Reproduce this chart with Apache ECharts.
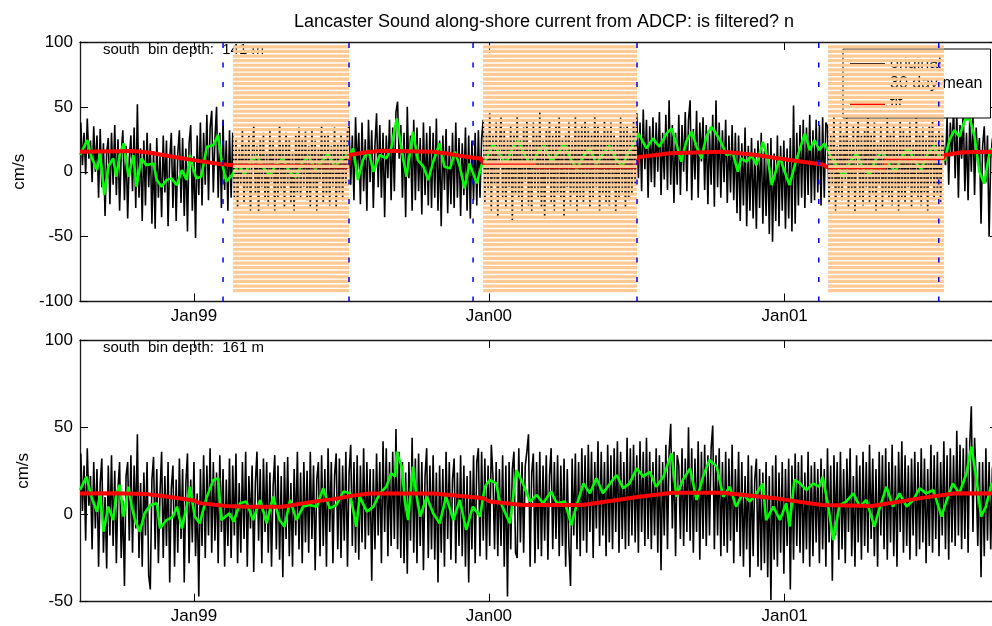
<!DOCTYPE html>
<html>
<head>
<meta charset="utf-8">
<script src="https://cdn.jsdelivr.net/npm/echarts@6.0.0/dist/echarts.min.js"></script>
<style>html,body{margin:0;padding:0;background:#fff;}#chart{width:992px;height:626px;}</style>
</head>
<body>
<div id="chart"></div>
<script>
// ---- data (days since 1 Jan 1999) ----
const tickDays = [0, 365, 731];
const tickLabels = ['Jan99', 'Jan00', 'Jan01'];
const titleText = 'Lancaster Sound along-shore current from ADCP: is filtered? n';
const topLabel = 'south  bin depth:  141 m';
const bottomLabel = 'south  bin depth:  161 m';
const seriesNames = ['original', '30 day mean', 'fit'];

// original (unfiltered) current, one value every 2 days from day -140
const blackStart = -140, blackStep = 2;
const topBlack = [
 38,5,30,-2,41,10,24,-8,35,0, 28,-20,33,-12,22,-34,15,26,-25,30, -10,36,-18,25,-30,14,32,-22,20,-36,
 10,28,-15,34,-28,52,-20,18,-38,24, -26,30,-12,22,-40,16,-44,26,-20,12, -35,28,-16,24,-42,10,30,-28,20,-38,
 14,32,-24,26,-34,18,-46,22,36,-30, 12,-51,28,-18,38,-26,30,-10,44,-22, 34,47,-16,26,50,-20,30,-28,40,-14,
 24,-30,32,-20,
 30,-20,25,-28,18,-10,33,-25,22,-15, 28,-30,12,35,-18,20,-32,26,-12,30, -22,15,-26,32,-8,24,-30,18,-20,36,
 -15,22,-28,30,-10,25,-24,14,-30,28, -16,34,-20,26,-12,31,-22,20,-27,33, -14,24,-30,18,-8,35,-24,28,-18,30,
 -26,20,-12,34,-28,22,-16,30,-22,26, -10,32,
 35,-10,28,-22,42,0,30,-25,38,-15, 25,-30,40,-8,32,-28,20,45,-12,36, -20,30,-35,28,-5,40,-22,34,-15,46,
 54,10,36,-20,30,-35,50,-5,28,-30, 40,-22,34,-15,26,-33,38,-18,30,-26, 35,-28,30,-20,41,-30,24,-42,28,-14,
 33,-32,20,-25,30,-28,38,-20,26,-34, 22,-18,34,-30,28,-36,24,-22,30,-26, 32,-20,26,
 40,-25,30,-15,45,-30,28,-10,38,-35, 20,42,-20,32,-28,25,-12,36,-38,30, -18,44,-22,26,-30,34,-8,40,-26,22,
 -32,38,-14,30,-20,46,-28,24,-36,33, -10,40,-24,28,-30,35,-16,42,-22,26, -34,30,-12,38,-26,24,-18,43,-30,32,
 -20,36,-25,40,-15,34,-28,30,-22,44, -12,36,-30,28,-18,40,-24,32,-26,38, -14,30,-32,26,-20,42,-16,34,-28,36,
 -22,30,-18,40,-10,
 45,-5,38,-15,48,2,40,-20,35,-8, 42,-12,38,0,46,-18,30,-6,44,-14, 55,-10,36,-24,30,-10,44,-18,36,0,
 46,-15,40,55,-22,33,-6,47,-20,38, 8,42,-14,36,-25,30,-10,44,-27,55, -12,38,-20,32,-8,40,-24,28,-16,36,
 -22,30,-32,28,-38,22,-26,34,-42,20, -30,26,-36,18,-44,24,-28,30,-40,16, -34,22,-48,26,-54,14,-38,28,-42,20,
 -30,24,-44,18,-36,26,-46,51,-40,30, -26,36,-20,40,-28,34,-18,44,-24,32, -22,40,-16,36,-26,42,-20,38,
 35,-25,28,-10,42,-30,20,-18,38,-22, 30,-8,45,-28,24,-15,36,-32,18,40, -20,28,-26,33,-12,48,-24,30,-18,38,
 -30,22,-10,35,-28,26,-16,42,-22,30, -26,36,-14,24,-30,40,-20,32,-24,28, -12,38,-28,22,-18,44,-20,30,-26,34,
 -16,26,-30,36,-10,40,-22,28,-18,32, -24,30,
 30,5,42,-10,38,12,50,-5,45,-20, 36,10,48,-15,30,-22,40,0,44,-18, 34,8,26,-40,20,35,-8,28,-50,10, 25,30
];
const bottomBlack = [
 35,2,28,-15,38,5,22,-20,30,-8, 26,-30,18,32,-22,10,-31,28,-12,34, -18,25,-28,15,30,-25,8,-41,22,30,
 -15,34,-22,28,-8,46,-25,18,-30,24, -12,30,-35,-43,20,33,-20,26,-28,12, 36,-25,22,-18,30,-39,15,28,-30,20,
 -22,32,-14,26,-39,18,35,-28,20,-16, 30,-24,12,-47,26,-18,34,-25,28,-12, 38,-22,30,-15,24,-28,34,-10,26,-30,
 20,-18,32,-25,28,-12,35,-28,18,-22, 30,-14,36,-30,22,-8,28,-33,18,36, -15,26,-28,32,-10,30,-22,24,-30,16,
 34,-20,28,-26,22,-36,30,-14,33,-24, 18,-30,26,-12,36,-20,24,-28,30,-16, 25,-22,36,-14,28,-32,20,30,-24,34,
 -18,26,-30,38,-10,30,-28,22,35,-20, 32,-25,28,-15,36,-30,24,40,-18,30, -22,34,-26,28,-16,38,-20,30,-12,26,
 -38,26,-20,35,-12,30,-28,42,-10,38, -24,30,-18,36,-14,49,-20,36,-25,30, -28,24,-34,30,-15,44,-22,32,-28,35,
 -18,30,-32,22,38,-25,28,-20,34,-26, 24,-39,28,-22,26,-30,36,-14,30,-26, 20,32,-28,24,-18,34,-24,28,-30,22,
 -39,25,-20,34,-28,30,38,-24,36,-15, 32,-26,28,-18,40,22,-20,30,-24,26, -18,34,-30,28,-47,30,-20,26,36,-22,
 -25,38,-16,30,-22,28,36,46,-30,24, 35,-28,30,-20,36,-24,28,-15,34,-26, 22,38,-20,30,-14,34,-24,28,-18,32,
 -30,26,-18,-41,32,-12,35,-20,30,-24, 38,-15,34,-22,40,-10,36,-25,30,-8, 42,-18,36,-12,30,-24,40,-16,34,-20,
 38,-10,42,-22,36,-14,30,-20,44,-18, 38,-12,40,-16,34,-22,42,-10,36,-18, 44,-14,36,-20,30,-12,38,-22,34,-32,
 30,-12,40,-20,36,52,-8,36,-24,34, 28,-14,38,-18,32,-10,50,-15,38,-22, 32,-10,42,-26,36,-14,40,-18,34,-12,
 38,51,-20,34,-12,38,-24,30,-18,36, -22,32,-15,40,-28,26,-10,36,-24,30, -30,22,-20,34,-36,28,-24,20,32,-30,
 26,-32,24,-28,30,-36,22,-49,28,-26, 34,-30,24,-22,30,-34,26,-18,32,-43, 28,-26,35,-18,30,-22,34,-28,24,-20,
 36,-30,28,-24,30,-16,26,-28,32,-20, 26,-30,38,-16,28,-38,34,-12,30,-26, 36,-20,26,-28,32,-10,38,-24,22,-30,
 34,-16,28,-26,36,-18,30,-22,40,-14, 32,-24,26,-30,36,-12,34,-20,38,-26, 30,-16,40,-24,28,-30,36,-10,42,-22,
 34,-18,28,-26,32,-12,36,-24,30,-20, 38,-16,32,-28,26,-18,40,-22,34,-14, 36,-24,30,-12,42,-20,34,-26,38,-16,
 34,-18,48,-12,40,-20,38,-14,44,-22, 40,62,-10,44,20,-18,30,-36,30,-24, 38,-15,30,-20,26,32
];

const topGreen = [
 [-141,12.9],[-132,24.4],[-127,11.6],[-120,1.3],[-116,14.2],[-111,-17.9],[-106,3.9],[-100,10.3],[-96,-3.8],[-92,12.9],[-87,21.8],[-81,-3.8],[-75,12.9],[-71,-11.5],[-65,10.3],[-59,5.1],[-50,6.4],[-46,-6.4],[-40,-11.5],[-34,-6.4],[-28,-5.1],[-21,-10.3],[-15,1.3],[-9,-6.4],[-5,12.9],[-1,2.6],[3,-5.1],[9,-3.8],[16,19.3],[24,20.5],[30,28.3],[34,9.0],[40,-7.7],[47,-2.6],
 [55,5],[63,-2],[70,8],[78,12],[86,3],[94,-3],[102,6],[110,10],[118,0],[126,-4],[134,7],[142,12],[150,2],[158,8],[166,14],[174,4],[182,9],[190,13],
 [193,12.9],[197,18.0],[203,-6.4],[209,9.0],[216,16.7],[222,0.0],[230,12.9],[238,10.3],[244,18.0],[251,41.1],[257,16.7],[263,-3.8],[271,30.9],[277,9.0],[284,3.9],[290,-6.4],[296,7.7],[304,21.8],[310,3.9],[317,2.6],[323,15.4],[329,3.9],[335,-12.8],[341,6.4],[350,-9.0],[356,5.1],
 [362,10],[370,22],[378,14],[386,6],[394,18],[402,24],[410,12],[418,4],[426,16],[434,20],[442,8],[450,14],[458,22],[466,10],[474,2],[482,12],[490,18],[498,6],[506,14],[514,20],[522,10],[530,4],[538,16],[545,22],
 [550,29.6],[560,18.0],[568,25.7],[576,19.3],[585,29.6],[591,33.4],[597,21.8],[603,7.7],[609,23.1],[616,30.9],[622,19.3],[628,10.3],[634,27.0],[640,34.7],[646,29.6],[653,21.8],[659,12.9],[667,14.2],[673,0.0],[677,10.3],[684,7.7],[690,12.9],[696,5.1],[704,23.1],[710,10.3],[715,-10.3],[721,2.6],[725,11.6],[731,0.0],[737,-10.3],[743,3.9],[750,18.0],[756,29.6],[762,16.7],[768,24.4],[774,16.7],[780,21.8],
 [788,12],[796,4],[804,-4],[812,8],[820,14],[828,2],[836,-2],[844,10],[852,16],[860,6],[868,0],[876,12],[884,18],[892,8],[900,2],[908,14],[916,20],[924,10],
 [929,9.0],[935,24.4],[941,32.2],[947,27.0],[954,39.9],[960,41.1],[966,27.0],[972,0.0],[978,-9.0],[985,16.7],[995,20]
];
const bottomGreen = [
 [-141,14.0],[-133,21.7],[-127,10.2],[-120,1.6],[-116,12.1],[-112,-9.9],[-106,4.5],[-100,-3.2],[-96,12.1],[-92,16.9],[-87,-1.2],[-81,15.9],[-77,4.5],[-73,-3.2],[-67,-9.9],[-61,0.7],[-54,5.4],[-46,6.4],[-42,-8.0],[-34,-3.2],[-26,-1.2],[-21,4.5],[-15,-8.0],[-9,4.5],[-5,15.9],[1,-1.2],[7,-5.1],[16,10.2],[24,19.8],[30,20.7],[34,-3.2],[44,0.7],[49,-4.2],[57,6.4],[65,7.4],[73,-3.2],[82,8.3],[90,-5.1],[98,10.2],[106,-3.2],[112,-7.0],[119,8.3],[127,-3.2],[135,4.5],[143,5.4],[152,4.5],[160,15.0],[168,3.5],[176,5.4],[185,13.1],[193,12.1],[201,-7.0],[205,10.2],[214,1.6],[222,4.5],[230,12.1],[238,15.9],[244,23.6],[249,21.7],[251,36.0],[257,27.4],[261,8.3],[265,-3.2],[271,27.4],[275,12.1],[280,-1.2],[288,10.2],[296,0.7],[304,-5.1],[312,10.2],[321,-3.2],[329,8.3],[337,-8.9],[345,4.5],[354,-1.2],[360,15.9],[366,19.8],[374,17.8],
 [378,8.3],[391,-5.1],[399,25.5],[407,17.8],[416,7.4],[424,11.2],[432,6.4],[442,13.1],[449,6.4],[459,7.4],[467,-6.1],[473,4.5],[482,17.8],[490,12.1],[498,20.7],[506,12.1],[515,17.8],[523,22.6],[531,15.0],[539,17.8],[548,26.4],[556,21.7],[564,24.5],[572,15.9],[581,21.7],[591,35.0],[597,10.2],[605,19.8],[614,26.4],[622,8.3],[630,21.7],[638,31.2],[647,27.4],[655,10.2],[663,15.9],[671,4.5],[679,12.1],[688,7.4],[696,12.1],[704,17.8],[708,-3.2],[717,4.5],[725,-3.2],[733,6.4],[737,-7.0],[743,19.8],[750,17.8],[758,14.0],[766,17.8],[774,15.9],[778,21.7],[785,4.5],[791,-14.6],[799,5.4],[807,7.4],[816,12.1],[824,4.5],[832,8.3],[842,-7.0],[849,4.5],[857,15.9],[865,4.5],[873,12.1],[882,4.5],[890,8.3],[898,15.0],[906,12.1],[915,14.0],[925,-1.2],[931,7.4],[939,17.8],[947,12.1],[956,23.6],[962,38.9],[968,21.7],[974,-1.2],[980,4.5],[987,17.8],[995,15]
];
const topRed = [
 [-141,15.4],[-75,16.0],[-54,14.7],[-26,11.6],[7,8.2],[32,5.9],[48,5.1],[49,3.9],[191,3.9],[192,12.9],[213,15.0],[234,16.2],[296,15.4],[317,13.6],[337,11.6],[356,10.1],[358,6.5],[420,6.5],[422,3.9],[547,3.9],[549,11.1],[589,14.2],[655,15.4],[696,12.9],[737,9.0],[778,5.6],[785,3.2],[855,3.2],[857,10.3],[927,10.3],[929,12.9],[952,15.0],[995,15.4]
];
const bottomRed = [
 [-141,12.0],[-100,12.1],[-60,11.8],[-30,10.0],[0,8.0],[7,6.5],[40,4.8],[69,4.4],[109,4.4],[150,7.5],[172,8.8],[200,11.0],[218,12.0],[296,12.0],[357,9.4],[366,7.4],[407,5.4],[481,5.4],[551,10.2],[592,12.5],[654,12.5],[716,9.5],[777,5.4],[839,4.9],[901,9.5],[943,12.1],[995,12.0]
];
// flagged (shaded) periods and marker lines, top panel
const shadeStart = [48.4, 357.8, 784.7];
const shadeEnd = [192.0, 548.3, 928.1];
const shadeTop = 97.5, shadeBottom = -93.5;
const markerDays = [36.0, 191.9, 345.4, 548.3, 773.2, 921.7];

// ---- chart ----
const FONT = "'Liberation Sans', Arial, Helvetica, sans-serif";
const chart = echarts.init(document.getElementById('chart'), null, {renderer: 'canvas'});
const xMin = -141, xMax = 995;
const frame = {color: '#1a1a1a', width: 1.3};

function xAxesFor(g) {
  return [
    {type: 'value', gridIndex: g, min: xMin, max: xMax, position: 'bottom',
     axisLine: {show: true, onZero: false, lineStyle: frame},
     axisTick: {show: true, inside: true, length: 8, customValues: tickDays, lineStyle: {color: '#000'}},
     axisLabel: {show: true, customValues: tickDays, margin: 6, fontSize: 17, color: '#000', fontFamily: FONT,
       formatter: v => tickLabels[tickDays.indexOf(v)] || ''},
     splitLine: {show: false}},
    {type: 'value', gridIndex: g, min: xMin, max: xMax, position: 'top',
     axisLine: {show: true, onZero: false, lineStyle: frame},
     axisTick: {show: true, inside: true, length: 8, customValues: tickDays, lineStyle: {color: '#000'}},
     axisLabel: {show: false}, splitLine: {show: false}}
  ];
}
function yAxesFor(g, mn, mx) {
  return [
    {type: 'value', gridIndex: g, min: mn, max: mx, interval: 50, position: 'left',
     name: 'cm/s', nameLocation: 'middle', nameGap: 48, nameRotate: 90,
     nameTextStyle: {fontSize: 17, color: '#000', fontFamily: FONT},
     axisLine: {show: true, onZero: false, lineStyle: frame},
     axisTick: {show: true, inside: true, length: 8, lineStyle: {color: '#000'}},
     axisLabel: {show: true, margin: 7, fontSize: 17, color: '#000', fontFamily: FONT},
     splitLine: {show: false}},
    {type: 'value', gridIndex: g, min: mn, max: mx, interval: 50, position: 'right',
     axisLine: {show: true, onZero: false, lineStyle: frame},
     axisTick: {show: true, inside: true, length: 8, lineStyle: {color: '#000'}},
     axisLabel: {show: false}, splitLine: {show: false}}
  ];
}

const toPairs = arr => arr.map((v, i) => [blackStart + blackStep * i, v]);

function lineSeries(name, data, xi, yi, color, width, z) {
  return {name, type: 'line', xAxisIndex: xi, yAxisIndex: yi, data, showSymbol: false, symbol: 'none',
    lineStyle: {color, width}, itemStyle: {color}, z, animation: false, silent: true};
}

const option = {
  animation: false,
  backgroundColor: '#fff',
  title: {text: titleText, left: 539, top: 8, textAlign: 'center',
    textStyle: {fontSize: 18, fontWeight: 'normal', color: '#000', fontFamily: FONT}},
  grid: [
    {left: 80, top: 42, width: 918, height: 259.5, containLabel: false, outerBoundsMode: 'none'},
    {left: 80, top: 340, width: 918, height: 261.7, containLabel: false, outerBoundsMode: 'none'}
  ],
  xAxis: [...xAxesFor(0), ...xAxesFor(1)],
  yAxis: [...yAxesFor(0, -100, 100), ...yAxesFor(1, -50, 100)],
  legend: {show: true, orient: 'vertical', left: 843, top: 49, data: seriesNames,
    icon: 'rect', itemWidth: 35, itemHeight: 2, itemGap: 0, padding: [5, 8, 4, 7],
    backgroundColor: '#fff', borderColor: '#000', borderWidth: 1, borderRadius: 0,
    selectedMode: false, z: 4,
    textStyle: {fontSize: 16, color: '#000', lineHeight: 20, fontFamily: FONT}},
  graphic: [
    {type: 'text', x: 103, y: 50, z: 3, style: {text: topLabel, fontSize: 15, fontFamily: FONT, fill: '#000', verticalAlign: 'middle'}},
    {type: 'text', x: 103, y: 348, z: 3, style: {text: bottomLabel, fontSize: 15, fontFamily: FONT, fill: '#000', verticalAlign: 'middle'}}
  ],
  series: [
    lineSeries(seriesNames[0], toPairs(topBlack), 0, 0, '#000000', 1.6, 1),
    lineSeries(seriesNames[1], topGreen, 0, 0, '#00ff00', 2.6, 2),
    lineSeries(seriesNames[2], topRed, 0, 0, '#ff0000', 4, 3),
    lineSeries(seriesNames[0], toPairs(bottomBlack), 2, 2, '#000000', 1.6, 1),
    lineSeries(seriesNames[1], bottomGreen, 2, 2, '#00ff00', 2.6, 2),
    lineSeries(seriesNames[2], bottomRed, 2, 2, '#ff0000', 4, 3),
    {type: 'custom', name: 'shade', xAxisIndex: 0, yAxisIndex: 0, z: 10, silent: true, animation: false,
     encode: {x: [0, 1], y: [2, 3]},
     data: shadeStart.map((s, i) => [s, shadeEnd[i], shadeTop, shadeBottom]),
     renderItem: function (params, api) {
       const p0 = api.coord([api.value(0), api.value(2)]);
       const p1 = api.coord([api.value(1), api.value(3)]);
       const kids = [];
       for (let y = p0[1]; y + 3.2 <= p1[1] + 0.5; y += 4.6) {
         kids.push({type: 'rect', shape: {x: p0[0], y: y, width: p1[0] - p0[0], height: 3.2},
           style: {fill: '#ffc994'}});
       }
       return {type: 'group', children: kids};
     }},
    {type: 'custom', name: 'markers', xAxisIndex: 0, yAxisIndex: 0, z: 11, silent: true, animation: false,
     encode: {x: 0, y: 1},
     data: markerDays.map(d => [d, 0]),
     renderItem: function (params, api) {
       const a = api.coord([api.value(0), -100]);
       const b = api.coord([api.value(0), 100]);
       return {type: 'line', shape: {x1: a[0], y1: a[1], x2: b[0], y2: b[1]},
         style: {stroke: '#0000ff', lineWidth: 1.5, lineDash: [5, 14.5]}};
     }}
  ]
};
chart.setOption(option);
</script>
</body>
</html>
